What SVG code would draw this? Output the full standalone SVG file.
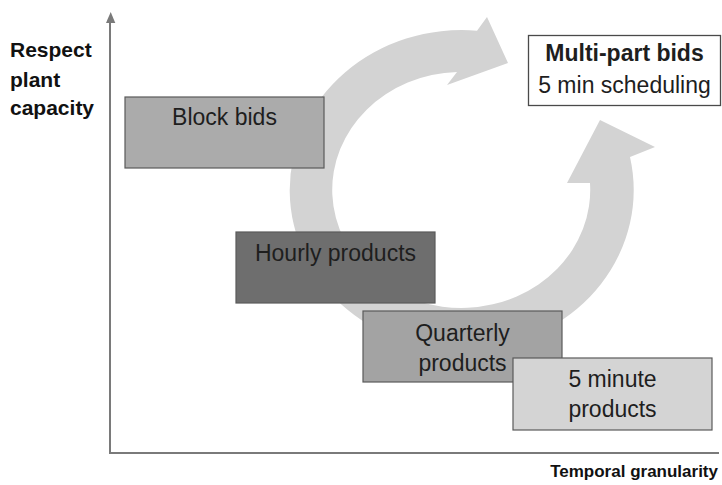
<svg xmlns="http://www.w3.org/2000/svg" width="722" height="485" viewBox="0 0 722 485">
<style>
  .box{stroke:#5a5a5a;stroke-width:1.2}
  .t{font-family:"Liberation Sans",Arial,sans-serif;font-size:23px;fill:#1e1e1e;text-anchor:middle}
  .lbl{font-family:"Liberation Sans",Arial,sans-serif;font-weight:bold;fill:#111}
  .axis{stroke:#7a7a7a;stroke-width:2;fill:none}
</style>
<rect width="722" height="485" fill="#ffffff"/>
<g id="cycle-arrow">
  <path d="M477,30.7 L487,17 L508,63 L447,85 L457,72 A129,118 0 1 0 590,183 L567,183 L600,120 L655,147 L630,157 A172,160 0 1 1 477,30.7 Z" fill="#d3d3d3"/>
</g>
<g id="axes">
  <line class="axis" x1="110" y1="453" x2="110" y2="22" />
  <polygon points="110.7,12 106,23 115.3,23" fill="#7a7a7a"/>
  <line class="axis" x1="109" y1="453" x2="719" y2="453" />
</g>
<g id="y-label">
  <text class="lbl" x="10" y="57" font-size="21">Respect</text>
  <text class="lbl" x="10" y="87" font-size="21">plant</text>
  <text class="lbl" x="10" y="115" font-size="21">capacity</text>
</g>
<g id="x-label">
  <text class="lbl" x="718" y="477" font-size="17" text-anchor="end">Temporal granularity</text>
</g>
<g id="block-bids">
  <rect class="box" x="125" y="97" width="199" height="71" fill="#ababab"/>
  <text class="t" x="224.5" y="125">Block bids</text>
</g>
<g id="hourly-products">
  <rect class="box" x="236" y="232" width="199" height="71" fill="#6e6e6e"/>
  <text class="t" x="335.5" y="261">Hourly products</text>
</g>
<g id="quarterly-products">
  <rect class="box" x="363" y="311" width="199" height="71" fill="#a3a3a3"/>
  <text class="t" x="462.5" y="341">Quarterly</text>
  <text class="t" x="462.5" y="371">products</text>
</g>
<g id="five-minute-products">
  <rect class="box" x="513" y="358" width="199" height="72" fill="#d4d4d4"/>
  <text class="t" x="612.5" y="387">5 minute</text>
  <text class="t" x="612.5" y="417">products</text>
</g>
<g id="multi-part-bids">
  <rect x="528.5" y="35.5" width="192" height="70" fill="#ffffff" stroke="#4a4a4a" stroke-width="1.3"/>
  <text class="t" x="624.5" y="61" font-weight="bold" font-size="22" fill="#111">Multi-part bids</text>
  <text class="t" x="624.5" y="93">5 min scheduling</text>
</g>
</svg>
